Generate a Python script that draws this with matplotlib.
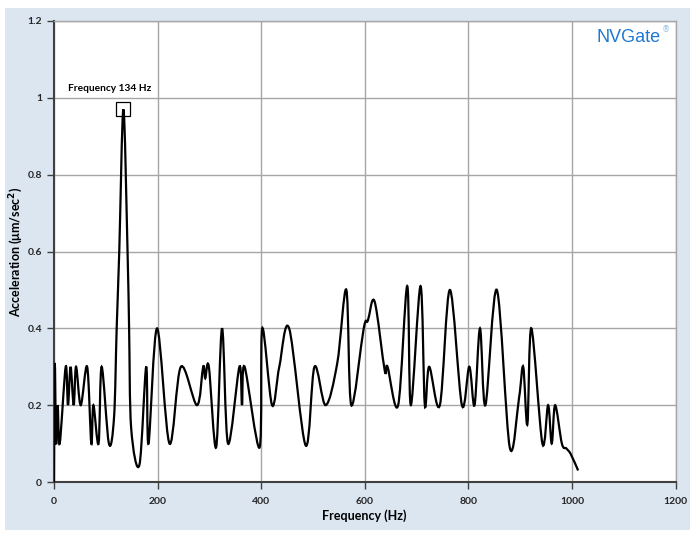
import numpy as np
import matplotlib.pyplot as plt
from matplotlib.path import Path
from matplotlib.patches import PathPatch, Rectangle

plt.rcParams['font.family'] = ['Lato', 'DejaVu Sans']

# values (Hz, um/sec^2), peaks and troughs
freq_hz = [0, 1.5, 4, 7, 11, 22.6, 27, 32, 38, 42.6, 51.6, 64, 72, 76, 86, 92,
           106, 116, 121, 126, 134, 142, 145, 149, 165, 178, 182.5, 199, 223,
           245, 276, 288, 292, 299, 313, 324.5, 336, 358, 363, 368, 397, 402,
           421, 435, 454, 486, 503, 524.5, 547, 564.5, 574, 598, 606, 619,
           638.6, 644, 664.5, 682, 689, 707.7, 716, 724.4, 745, 764.4, 787.6,
           801.8, 812, 822.5, 833, 855, 880, 898, 906, 914, 921.7, 943, 954,
           961, 967.6, 980.6, 989.6, 998, 1012]
accel = [0, 0.31, 0.1, 0.2, 0.1, 0.3, 0.2, 0.3, 0.2, 0.3, 0.2, 0.3, 0.1, 0.2,
         0.1, 0.3, 0.1, 0.17, 0.4, 0.6, 0.97, 0.6, 0.4, 0.14, 0.045, 0.3, 0.1,
         0.4, 0.1, 0.3, 0.2, 0.3, 0.27, 0.3, 0.09, 0.4, 0.1, 0.3, 0.2, 0.3,
         0.09, 0.4, 0.2, 0.3, 0.4, 0.095, 0.3, 0.2, 0.31, 0.5, 0.2, 0.4, 0.42,
         0.47, 0.29, 0.3, 0.2, 0.51, 0.2, 0.51, 0.2, 0.3, 0.2, 0.5, 0.2, 0.3,
         0.2, 0.4, 0.2, 0.5, 0.09, 0.22, 0.3, 0.15, 0.4, 0.1, 0.2, 0.1, 0.2,
         0.1, 0.087, 0.072, 0.03]

x_ticks = [0, 200, 400, 600, 800, 1000, 1200]
y_ticks = [0, 0.2, 0.4, 0.6, 0.8, 1.0, 1.2]
y_tick_labels = ['0', '0.2', '0.4', '0.6', '0.8', '1', '1.2']
peak_freq = 134
peak_value = 0.972


def smooth_path(x, y):
    # excel-like smoothed line: catmull-rom segments as cubic beziers
    pts = np.column_stack([x, y])
    p = np.vstack([pts[0], pts, pts[-1]])
    verts = [pts[0]]
    codes = [Path.MOVETO]
    for i in range(1, len(p) - 2):
        c1 = p[i] + (p[i + 1] - p[i - 1]) / 6
        c2 = p[i + 1] - (p[i + 2] - p[i]) / 6
        verts += [c1, c2, p[i + 1]]
        codes += [Path.CURVE4] * 3
    return Path(verts, codes)


fig = plt.figure(figsize=(6.94, 5.34), dpi=100, facecolor='white')
fig.patches.append(Rectangle((5 / 694, 4 / 534), 685 / 694, 522 / 534,
                             transform=fig.transFigure, facecolor='#dce6f1',
                             edgecolor='none', zorder=-10))

ax = fig.add_axes([54 / 694, 52 / 534, 621.5 / 694, 461 / 534])
ax.set_facecolor('white')

ax.add_patch(PathPatch(smooth_path(freq_hz, accel), facecolor='none',
                       edgecolor='black', lw=1.6, zorder=3, clip_on=True))

ax.set_xlim(0, 1200)
ax.set_ylim(0, 1.2)
ax.set_xticks(x_ticks)
ax.set_yticks(y_ticks)
ax.set_yticklabels(y_tick_labels)
ax.grid(True, color='#a6a6a6', lw=1)
ax.set_axisbelow(True)

for s in ['left', 'bottom']:
    ax.spines[s].set_color('#404040')
    ax.spines[s].set_linewidth(1.5)
for s in ['top', 'right']:
    ax.spines[s].set_color('#a6a6a6')
    ax.spines[s].set_linewidth(1)

ax.tick_params(direction='out', length=5, width=1, color='#404040',
               labelsize=7.5, labelcolor='#262626')
ax.tick_params(axis='x', pad=6)
for lab in ax.get_xticklabels() + ax.get_yticklabels():
    lab.set_fontweight('bold')

ax.set_xlabel('Frequency (Hz)', fontsize=9, fontweight='bold', labelpad=2)
ax.set_ylabel('Acceleration (μm/sec$^\\mathbf{2}$)', fontsize=9,
              fontweight='bold')
ax.yaxis.set_label_coords(-0.047, 0.5)

# peak marker and label
ax.plot([peak_freq], [peak_value], marker='s', ms=10, mfc='none', mec='black',
        mew=0.9, zorder=4)
ax.text(peak_freq - 27, 1.025, 'Frequency 134 Hz', fontsize=7.3,
        fontweight='bold', ha='center', va='center')

fig.text(597 / 694, 1 - 38 / 534, 'NVGate', fontsize=13, color='#1f78d1',
         family='Liberation Sans', ha='left', va='center')
fig.text(662 / 694, 1 - 30 / 534, '®', fontsize=6, color='#8bbbe8',
         family='DejaVu Sans', ha='left', va='center')

fig.savefig('out.png', dpi=100, facecolor='white')
